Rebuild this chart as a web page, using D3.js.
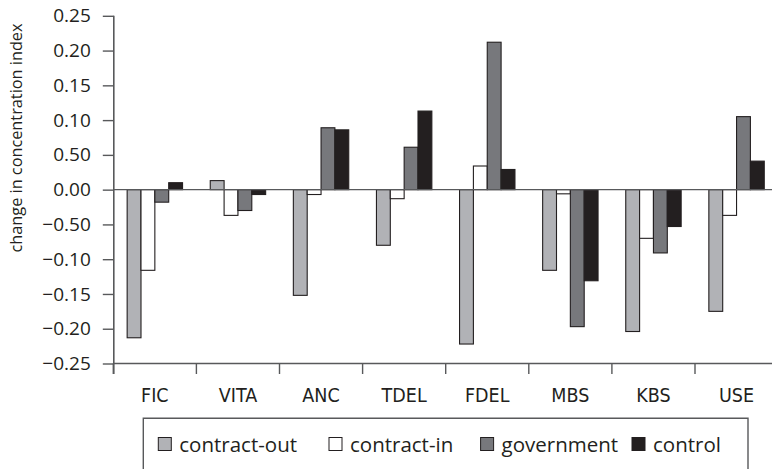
<!DOCTYPE html>
<html>
<head>
<meta charset="utf-8">
<script src="https://cdn.jsdelivr.net/npm/d3@7"></script>
<style>
  html, body { margin: 0; padding: 0; background: #fff; }
  svg { display: block; }
  text { fill: #231f20; }
</style>
</head>
<body>
<svg id="chart" width="772" height="469"></svg>
<script>
const categories = ["FIC", "VITA", "ANC", "TDEL", "FDEL", "MBS", "KBS", "USE"];
const seriesNames = ["contract-out", "contract-in", "government", "control"];
const contractOut = [-0.213, 0.013, -0.152, -0.080, -0.222, -0.116, -0.204, -0.175];
const contractIn  = [-0.116, -0.037, -0.007, -0.013, 0.034, -0.006, -0.070, -0.037];
const government  = [-0.018, -0.030, 0.089, 0.061, 0.212, -0.197, -0.091, 0.105];
const control     = [0.010, -0.007, 0.086, 0.113, 0.029, -0.131, -0.053, 0.041];
const yTickValues = [0.25, 0.20, 0.15, 0.10, 0.05, 0.00, -0.05, -0.10, -0.15, -0.20, -0.25];
const yTickLabels = ["0.25", "0.20", "0.15", "0.10", "0.50", "0.00", "\u22120.50", "\u22120.10", "\u22120.15", "\u22120.20", "\u22120.25"];
const yTitle = "change in concentration index";

const seriesValues = [contractOut, contractIn, government, control];
const colors = ["#b1b2b6", "#ffffff", "#77787c", "#231f20"];

const svg = d3.select("#chart");

const y = d3.scaleLinear().domain([-0.25, 0.25]).range([363.5, 15.8]);
const x0 = d3.scaleBand().domain(categories).range([113.3, 778.1]).paddingInner(0).paddingOuter(0);
const x1 = d3.scaleBand().domain(seriesNames).range([0, x0.bandwidth()]).paddingInner(0).paddingOuter(1);

const axisColor = "#58595b";

// y axis
const yAxis = d3.axisLeft(y)
  .tickValues(yTickValues)
  .tickFormat((d, i) => yTickLabels[i])
  .tickSize(11)
  .tickSizeOuter(0)
  .tickPadding(12);
const gy = svg.append("g").attr("transform", "translate(113.8,0)").call(yAxis);
gy.select(".domain").attr("stroke", axisColor).attr("stroke-width", 1.6)
  .attr("d", `M0,${y(0.25)}V${y(-0.25) + 10.5}`);
gy.selectAll(".tick line").attr("stroke", axisColor).attr("stroke-width", 1.4);
gy.selectAll(".tick text")
  .style("font-family", "'Open Sans', sans-serif")
  .style("font-size", "19px")
  .attr("fill", "#231f20");

// x axis (labels centered, ticks at category boundaries)
const xAxis = d3.axisBottom(x0).tickSize(0).tickSizeOuter(0).tickPadding(0);
const gx = svg.append("g").attr("transform", `translate(0,${y(-0.25)})`).call(xAxis);
gx.select(".domain").attr("stroke", axisColor).attr("stroke-width", 1.6)
  .attr("d", `M${x0.range()[0]},0H772`);
gx.selectAll(".tick text")
  .attr("dy", null)
  .attr("y", 38.2)
  .style("font-family", "'DejaVu Sans Condensed', 'Liberation Sans Narrow', 'DejaVu Sans', sans-serif")
  .style("font-stretch", "condensed")
  .style("font-size", "19.5px")
  .attr("fill", "#231f20");
const boundaries = categories.map(c => x0(c));
gx.selectAll(".bound")
  .data(boundaries)
  .join("line")
  .attr("class", "bound")
  .attr("x1", d => d).attr("x2", d => d)
  .attr("y1", 0).attr("y2", 10.5)
  .attr("stroke", axisColor).attr("stroke-width", 1.4);

// bars
const groups = svg.append("g").selectAll("g")
  .data(categories)
  .join("g")
  .attr("transform", c => `translate(${x0(c)},0)`);

groups.selectAll("rect")
  .data((c, ci) => seriesNames.map((s, si) => ({ s, si, v: seriesValues[si][ci] })))
  .join("rect")
  .attr("x", d => x1(d.s))
  .attr("width", x1.bandwidth())
  .attr("y", d => y(Math.max(0, d.v)))
  .attr("height", d => Math.abs(y(d.v) - y(0)))
  .attr("fill", d => colors[d.si])
  .attr("stroke", "#231f20")
  .attr("stroke-width", 1.1);

// zero line
svg.append("line")
  .attr("x1", x0.range()[0]).attr("x2", 772)
  .attr("y1", y(0)).attr("y2", y(0))
  .attr("stroke", axisColor).attr("stroke-width", 1.4);

// y title
svg.append("text")
  .attr("transform", "translate(21.5,138) rotate(-90)")
  .attr("text-anchor", "middle")
  .style("font-family", "'Open Sans', sans-serif")
  .style("font-size", "16.3px")
  .text(yTitle);

// legend
const legend = svg.append("g");
legend.append("path")
  .attr("d", "M143.3,475V418.3H748V475")
  .attr("fill", "none")
  .attr("stroke", axisColor)
  .attr("stroke-width", 1.4);
const legendX = [158.3, 329, 480.6, 632];
const items = legend.selectAll("g.item")
  .data(seriesNames)
  .join("g")
  .attr("class", "item")
  .attr("transform", (d, i) => `translate(${legendX[i]},437.5)`);
items.append("rect")
  .attr("width", 13).attr("height", 13)
  .attr("fill", (d, i) => colors[i])
  .attr("stroke", "#231f20")
  .attr("stroke-width", 1);
items.append("text")
  .attr("x", 21)
  .attr("y", 14)
  .style("font-family", "'Open Sans', sans-serif")
  .style("font-size", "20.5px")
  .text(d => d);
</script>
</body>
</html>
